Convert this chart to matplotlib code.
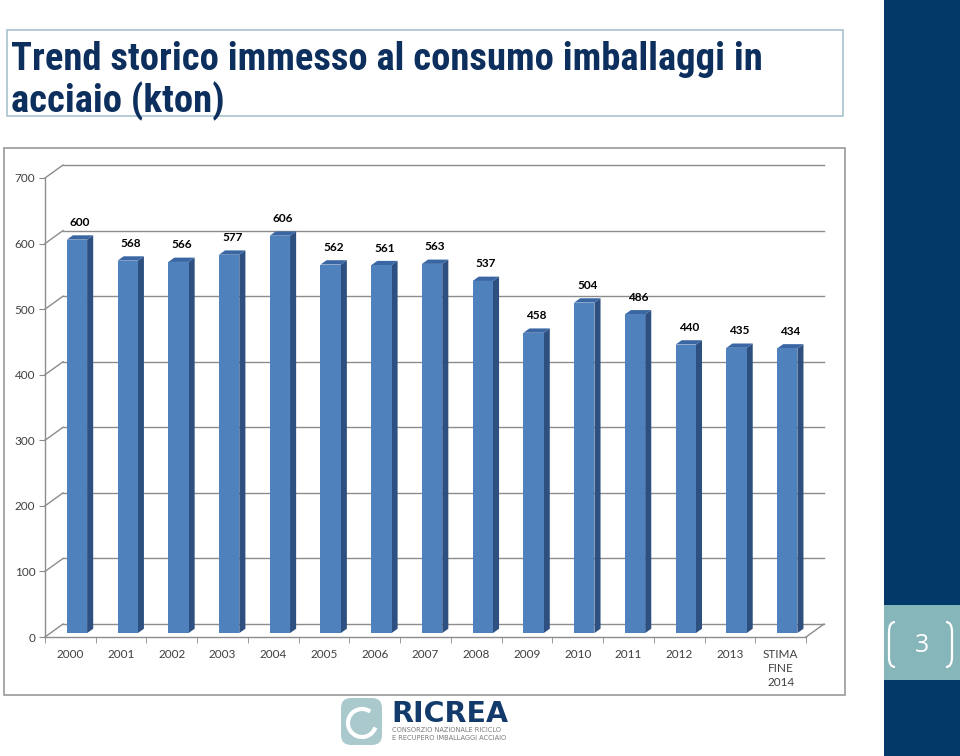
import matplotlib
matplotlib.use("Agg")
import matplotlib.pyplot as plt
from matplotlib.patches import Rectangle, Polygon, FancyBboxPatch, PathPatch
from matplotlib.path import Path
import numpy as np

# data
years = ['2000', '2001', '2002', '2003', '2004', '2005', '2006', '2007',
         '2008', '2009', '2010', '2011', '2012', '2013', 'STIMA\nFINE\n2014']
values = [600, 568, 566, 577, 606, 562, 561, 563, 537, 458, 504, 486, 440, 435, 434]
yticks = [0, 100, 200, 300, 400, 500, 600, 700]

title_lines = ["Trend storico immesso al consumo imballaggi in", "acciaio (kton)"]

navy = '#033968'
teal = '#86b5ba'
gray = '#8c8c8c'

fig = plt.figure(figsize=(9.6, 7.56), dpi=100)

# slide background (pixel coords)
bg = fig.add_axes([0, 0, 1, 1], zorder=0)
bg.set_xlim(0, 960)
bg.set_ylim(756, 0)
bg.axis('off')

bg.add_patch(Rectangle((884, 0), 76, 756, color=navy, lw=0))
bg.add_patch(Rectangle((884, 605), 76, 75, color=teal, lw=0))
bg.text(922, 645, '3', color='white', fontsize=18, ha='center', va='center',
        family=['Open Sans', 'DejaVu Sans'])
for x0, s in [(889, 1), (952, -1)]:
    verts = [(x0 + 6 * s, 622), (x0, 622), (x0, 632), (x0, 657), (x0, 667), (x0 + 6 * s, 667)]
    codes = [Path.MOVETO, Path.CURVE3, Path.CURVE3, Path.LINETO, Path.CURVE3, Path.CURVE3]
    bg.add_patch(PathPatch(Path(verts, codes), fill=False, ec='white', lw=1.6))

# title box
bg.add_patch(Rectangle((7, 30), 836, 86, fill=False, ec='#a9c3cd', lw=1.2))
tfam = ['Liberation Sans Narrow', 'Roboto Condensed', 'Liberation Sans', 'DejaVu Sans']
t1 = bg.text(11, 70, title_lines[0], color='#0d2f5e', fontsize=28, fontweight='bold',
             family=tfam, va='baseline', ha='left')
t2 = bg.text(11, 112, title_lines[1], color='#0d2f5e', fontsize=28, fontweight='bold',
             family=tfam, va='baseline', ha='left')
# shrink the title to the width it takes in the slide
fig.canvas.draw()
w = t1.get_window_extent().width
if w > 752:
    fs = 28 * 752 / w
    t1.set_fontsize(fs)
    t2.set_fontsize(fs)

# chart frame
bg.add_patch(Rectangle((4, 148), 841, 547, fill=False, ec='#9a9a9a', lw=1.2))

# logo
bg.add_patch(FancyBboxPatch((343, 700), 37, 43, boxstyle='round,pad=2,rounding_size=10',
                            fc='#a9c9cc', ec='none'))
th = np.linspace(0.35 * np.pi, 1.85 * np.pi, 60)
bg.plot(362 + 14 * np.cos(th), 723 - 14 * np.sin(th), color='white', lw=3)
bg.text(391, 722, 'RICREA', color='#123b6b', fontsize=20.5, fontweight='bold',
        family=['DejaVu Sans'], va='baseline')
bg.text(392, 734, 'CONSORZIO NAZIONALE RICICLO\nE RECUPERO IMBALLAGGI ACCIAIO',
        color='#7a7a7a', fontsize=4.8, family=['DejaVu Sans'], va='center', linespacing=1.2)

# chart axes, front plane of the 3D box
ax = fig.add_axes([45 / 960, (756 - 637) / 756, (806 - 45) / 960, (637 - 178) / 756], zorder=1)
ax.patch.set_alpha(0)
n = len(values)
ax.set_xlim(-0.5, n - 0.5)
ax.set_ylim(0, 700)

DX, DY = 0.355, 19.8          # full depth of the floor, in data units
bx, by = 0.12, 6.6            # bar depth
b0 = 6.0                      # bar base lift

# back wall gridlines and left wall diagonals
for t in yticks:
    ax.plot([-0.5 + DX, n - 0.5 + DX], [t + DY, t + DY], color=gray, lw=1, clip_on=False, zorder=1)
    ax.plot([-0.5, -0.5 + DX], [t, t + DY], color=gray, lw=1, clip_on=False, zorder=1)
ax.plot([n - 0.5, n - 0.5 + DX], [0, DY], color=gray, lw=1, clip_on=False, zorder=1)

font = ['Lato', 'DejaVu Sans']
for i, v in enumerate(values):
    x0, x1 = i - 0.07, i + 0.33
    ax.add_patch(Polygon([(x1, b0), (x1 + bx, b0 + by), (x1 + bx, v + b0 + by), (x1, v + b0)],
                         closed=True, fc='#2d5080', ec='none', clip_on=False, zorder=3))
    ax.add_patch(Polygon([(x0, v + b0), (x1, v + b0), (x1 + bx, v + b0 + by), (x0 + bx, v + b0 + by)],
                         closed=True, fc='#3a66a3', ec='none', clip_on=False, zorder=3))
    ax.add_patch(Rectangle((x0, b0), x1 - x0, v, fc='#4f81bd', ec='none', clip_on=False, zorder=4))
    ax.text(i + 0.19, v + 32, str(v), ha='center', va='center', fontsize=8.5,
            fontweight='bold', color='black', family=font, clip_on=False)

for s in ['top', 'right']:
    ax.spines[s].set_visible(False)
for s in ['left', 'bottom']:
    ax.spines[s].set_color(gray)
    ax.spines[s].set_linewidth(1)

ax.set_yticks(yticks)
ax.set_yticklabels([str(t) for t in yticks], family=font, fontsize=8.5, color='#404040')
ax.tick_params(axis='y', direction='out', length=4, color=gray, pad=3)
ax.set_xticks(range(n))
ax.set_xticklabels(years, family=font, fontsize=8.5, color='#404040', linespacing=1.3, va='top')
ax.set_xticks(np.arange(-0.5, n, 1), minor=True)
ax.tick_params(axis='x', which='major', length=0, pad=9)
ax.tick_params(axis='x', which='minor', direction='out', length=4, color=gray)

fig.savefig('out.png', dpi=100)
